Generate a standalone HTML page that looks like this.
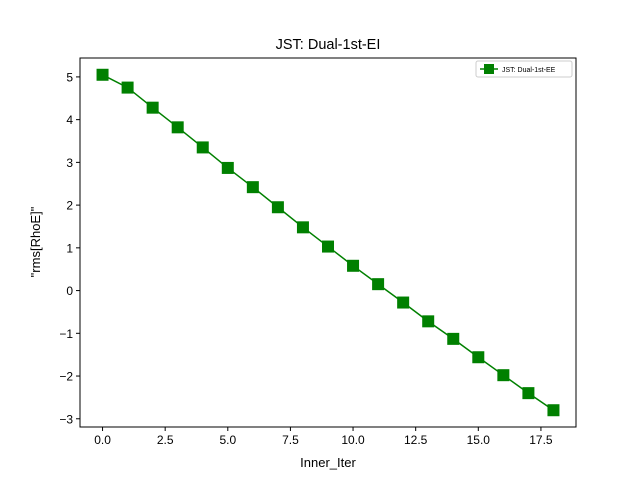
<!DOCTYPE html>
<html><head><meta charset="utf-8"><style>
html,body{margin:0;padding:0;background:#fff;}
svg{display:block;font-family:"Liberation Sans","DejaVu Sans",sans-serif;}
</style></head><body>
<svg id="chart" width="640" height="480" viewBox="0 0 640 480" xmlns="http://www.w3.org/2000/svg">
<rect width="640" height="480" fill="#fff"/>
<text x="328" y="49" font-size="14.5" text-anchor="middle">JST: Dual-1st-EI</text>
<text x="328" y="467" font-size="13" text-anchor="middle">Inner_Iter</text>
<text transform="translate(40,242) rotate(-90)" font-size="13" text-anchor="middle">"rms[RhoE]"</text>
<g id="ticks"></g>
<g id="series"></g>
<rect x="80" y="58" width="496" height="369" fill="none" stroke="#000" stroke-width="1"/>
<g>
<rect x="476" y="61" width="96" height="16" fill="#fff" stroke="#ccc" rx="2"/>
<line x1="480" y1="69" x2="498" y2="69" stroke="green" stroke-width="1.5"/>
<rect x="484" y="64" width="10" height="10" fill="green"/>
<text x="502" y="72" font-size="7">JST: Dual-1st-EE</text>
</g>
</svg>
<script>
const iterations=[0,1,2,3,4,5,6,7,8,9,10,11,12,13,14,15,16,17,18];
const rmsValues=[5.05,4.75,4.28,3.82,3.35,2.87,2.42,1.95,1.48,1.03,0.58,0.15,-0.28,-0.72,-1.13,-1.56,-1.98,-2.40,-2.80];
const xTicks=[0,2.5,5,7.5,10,12.5,15,17.5];
const yTicks=[-3,-2,-1,0,1,2,3,4,5];
const NS="http://www.w3.org/2000/svg";
const L=80,R=576,T=58,B=427;
const xmin=Math.min(...iterations),xmax=Math.max(...iterations),xp=(xmax-xmin)*0.05;
const ymin=Math.min(...rmsValues),ymax=Math.max(...rmsValues),yp=(ymax-ymin)*0.05;
const sx=v=>L+(v-(xmin-xp))/((xmax+xp)-(xmin-xp))*(R-L);
const sy=v=>B-(v-(ymin-yp))/((ymax+yp)-(ymin-yp))*(B-T);
function mk(t,a,p){const e=document.createElementNS(NS,t);for(const k in a)e.setAttribute(k,a[k]);p.appendChild(e);return e;}
const tg=document.getElementById('ticks');
xTicks.forEach(v=>{const x=sx(v);
const l=mk('line',{x1:x,y1:B,x2:x,y2:B+4,stroke:'#000'},tg);


const t=mk('text',{x:x,y:B+17,'font-size':12,'text-anchor':'middle'},tg);t.textContent=v.toFixed(1);

});
yTicks.forEach(v=>{const y=sy(v);
const l=mk('line',{x1:L-4,y1:y,x2:L,y2:y,stroke:'#000'},tg);


const t=mk('text',{x:L-7,y:y+4.5,'font-size':12,'text-anchor':'end'},tg);t.textContent=(v<0?'\u2212'+(-v):String(v));

});
const sg=document.getElementById('series');
const pl=mk('polyline',{points:iterations.map((x,i)=>sx(x)+','+sy(rmsValues[i])).join(' '),fill:'none',stroke:'green','stroke-width':1.5},sg);


iterations.forEach((x,i)=>{const r=mk('rect',{x:sx(x)-6,y:sy(rmsValues[i])-6,width:12,height:12,fill:'green'},sg);

});
</script>
</body></html>
